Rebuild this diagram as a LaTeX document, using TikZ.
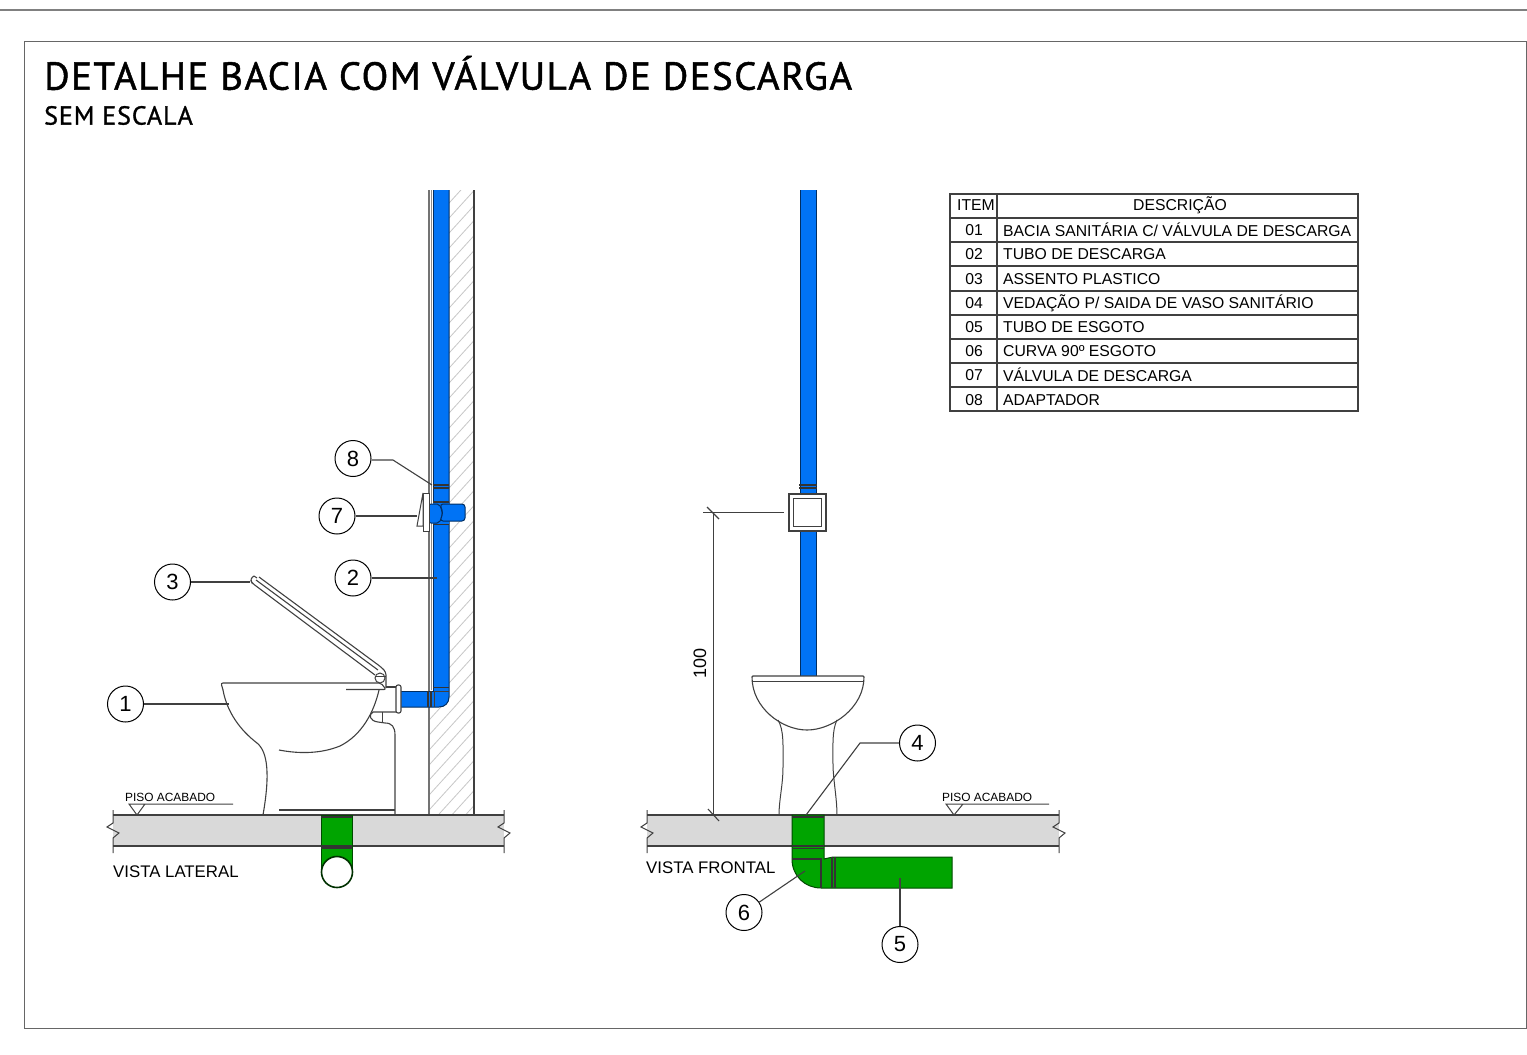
\documentclass[tikz,border=0pt]{standalone}
\usepackage{fontspec}
\setmainfont{Liberation Sans}
\newfontfamily\titlefont[FakeBold=1.2]{PT Sans}
\definecolor{pipeblue}{HTML}{0073F5}
\definecolor{pipegreen}{HTML}{00A400}
\definecolor{slabgray}{HTML}{D9D9D9}
\definecolor{inkgray}{HTML}{404040}
\newcommand{\sz}[1]{\fontsize{#1}{#1}\selectfont}
\begin{document}
\begin{tikzpicture}[x=1pt,y=-1pt,
		every node/.style = {inner sep=0pt, text=black},
		line/.style = {draw=inkgray, line width=1.1pt},
		thin line/.style = {draw=inkgray, line width=1pt},
		balloon/.style = {shape=circle, draw=black, line width=1pt, fill=white,
				minimum size=36pt, font=\sz{22}},
		leader/.style = {draw=inkgray, line width=1.1pt},
		slab/.style = {fill=slabgray, draw=none},
		blue edge/.style = {draw=black!60!pipeblue, line width=1pt},
		green pipe/.style = {fill=pipegreen, draw=black!55!pipegreen, line width=1pt},
		band/.style = {line width=1.8pt, draw=black!80},
		cell/.style = {font=\sz{15.75}, anchor=west},
		note/.style = {font=\sz{11.9}, anchor=west},
		caption/.style = {font=\sz{16.8}, anchor=west}]
	\useasboundingbox (0,0) rectangle (1527,1055);
	\draw[draw=gray, line width=1.4pt] (0,10) -- (1527,10);
	\draw[draw=black!60, line width=1pt] (24,41) rectangle (1526,1028);

	% titles
	\node[anchor=west, font=\titlefont\sz{39}] (title) at (44,73) {\addfontfeature{LetterSpace=3.7}DETALHE BACIA COM VÁLVULA DE DESCARGA};
	\node[anchor=west, font=\titlefont\sz{26}] (subtitle) at (44,115.5) {\addfontfeature{LetterSpace=3.6}SEM ESCALA};

	% table
	\draw[line] (950,194) rectangle (1358,411);
	\draw[line] (997,194) -- (997,411);
	\foreach \y in {218,242,266,291,315,339,363,387}
		\draw[line] (950,\y) -- (1358,\y);
	\node[cell, anchor=center] (itemhead) at (976,205) {ITEM};
	\node[cell, anchor=center] (deschead) at (1180,205) {DESCRIÇÃO};
	\foreach \y/\n/\txt in {230/01/{BACIA SANITÁRIA C/ VÁLVULA DE DESCARGA},
			254/02/{TUBO DE DESCARGA},
			279/03/{ASSENTO PLASTICO},
			303/04/{VEDAÇÃO P/ SAIDA DE VASO SANITÁRIO},
			327/05/{TUBO DE ESGOTO},
			351/06/{CURVA 90º ESGOTO},
			375/07/{VÁLVULA DE DESCARGA},
			400/08/{ADAPTADOR}} {
		\node[cell, anchor=center] (num\n) at (974,\y) {\n};
		\node[cell] (desc\n) at (1003,\y) {\txt};
	}

	% lateral view: wall
	\begin{scope}
		\clip (449,190) rectangle (474,815) (429,707) rectangle (449,815);
		\foreach \i in {0,...,50}
			\draw[draw=black!22, line width=0.8pt] (420,190+\i*15) -- +(70,-77);
	\end{scope}
	\draw[draw=black!55, line width=1.1pt] (429,190) -- (429,815);
	\draw[draw=black!45, line width=0.9pt] (431,190) -- (431,690);
	\draw[line] (474,190) -- (474,815);

	% lateral view: slab
	\fill[slab] (113,815) rectangle (504,846);
	\draw[line] (113,815) -- (504,815);
	\draw[line] (113,846) -- (504,846);
	\draw[thin line] (113,810) -- (113,823) -- (107,827) -- (119,833) -- (113,838) -- (113,853);
	\draw[thin line] (504,810) -- (504,823) -- (498,827) -- (510,833) -- (504,838) -- (504,853);

	% lateral view: drain
	\draw[green pipe] (321,815) rectangle (352,875);
	\draw[band] (321,817) -- (352,817);
	\draw[band] (321,846) -- (352,846);
	\draw[band] (321,848) -- (352,848);
	\node[shape=circle, draw=black!70!pipegreen, line width=1.6pt, fill=white, minimum size=31pt] (drainhole) at (337,872) {};

	% lateral view: blue pipe
	\fill[pipeblue] (433,190) -- (449,190) -- (449,697) .. controls (449,703) and (445,707) .. (439,707) -- (401,707) -- (401,691) -- (433,691) -- cycle;
	\draw[blue edge] (433,190) -- (433,691) -- (401,691);
	\draw[blue edge] (449,190) -- (449,697) .. controls (449,703) and (445,707) .. (439,707) -- (401,707);
	\draw[band] (433,485) -- (449,485);
	\draw[band] (433,488) -- (449,488);
	\draw[band] (433,687.5) -- (449,687.5);
	\draw[band] (428,691) -- (428,707);
	\draw[band] (431,691) -- (431,707);
	\draw[thin line] (434,691) -- (434,707);
	\draw[thin line] (434,691) -- (449,691);

	% lateral view: valve
	\fill[pipeblue] (433,501) rectangle (449,525);
	\draw[band] (433,502) -- (449,502);
	\draw[band] (433,524.5) -- (449,524.5);
	\draw[blue edge, fill=pipeblue, rounded corners=2pt] (429,504) -- (439,504) -- (442,510) -- (442,517) -- (439,523) -- (429,523) -- cycle;
	\draw[blue edge, fill=pipeblue, rounded corners=3pt] (440,504) -- (465,504) -- (465,521) -- (440,521) -- (443,513) -- cycle;
	\draw[thin line, fill=white] (423,493) -- (429,493) -- (429,531) -- (423,531) -- cycle;
	\draw[thin line, fill=white] (423,493) -- (417,526) -- (423,526) -- cycle;

	% lateral view: bowl
	\draw[line, rounded corners=2pt] (346,689.5) -- (386,689.5) -- (381,683) -- (221,683) -- (223,690);
	\draw[line] (223,690) .. controls (227,712) and (240,730) .. (257,743)
		.. controls (268,752) and (270,775) .. (263,815);
	\draw[line] (279,750) .. controls (310,756) and (330,750) .. (340,746)
		.. controls (362,735) and (374,712) .. (379,690);
	\draw[line] (279,810) -- (395,810);
	\draw[line] (395,815) -- (395,735) .. controls (395,727) and (392,723) .. (385,723)
		-- (378,722) .. controls (370,721) and (368,715) .. (373,712) -- (396,712);
	\draw[thin line] (382,712) -- (382,723);
	\draw[line] (386,687) -- (396,687);
	\draw[line, fill=white, rounded corners=2pt] (396,685) rectangle (401,713);

	% lateral view: seat
	\draw[line, rounded corners=3pt] (259,577) -- (381,667) -- (386,672) -- (386,688);
	\draw[line] (256,580) -- (378,670);
	\draw[line, rounded corners=3pt] (254,576) -- (250,579) -- (252,583) -- (375,675);
	\draw[line] (254,576) -- (257,578);
	\draw[thin line] (380,678) circle[radius=5pt];
	\draw[thin line] (376,676) -- (386,676);

	% front view: slab
	\fill[slab] (647,815) rectangle (1059,846);
	\draw[line] (647,815) -- (1059,815);
	\draw[line] (647,846) -- (1059,846);
	\draw[thin line] (647,810) -- (647,823) -- (641,827) -- (653,833) -- (647,838) -- (647,853);
	\draw[thin line] (1059,810) -- (1059,823) -- (1053,827) -- (1065,833) -- (1059,838) -- (1059,853);

	% front view: drain
	\draw[green pipe] (792,815) -- (824,815) -- (824,859) -- (833,857) -- (952,857) -- (952,888) -- (821,888)
		.. controls (805,888) and (792,876) .. (792,859) -- cycle;
	\draw[band] (792,817) -- (824,817);
	\draw[band] (792,846) -- (824,846);
	\draw[band] (792,848.5) -- (824,848.5);
	\draw[draw=black!80, line width=1.2pt] (792,859) -- (822,859);
	\draw[draw=black!80, line width=1.2pt] (821,859) -- (821,888);
	\draw[draw=black!80, line width=1.2pt] (832,857) -- (832,888);
	\draw[draw=black!80, line width=1.2pt] (835,857) -- (835,888);

	% front view: pipe and valve
	\fill[pipeblue] (800,190) rectangle (816,676);
	\draw[blue edge] (800,190) -- (800,676);
	\draw[blue edge] (816,190) -- (816,676);
	\draw[band] (799,485) -- (817,485);
	\draw[band] (799,488) -- (817,488);
	\node[shape=rectangle, draw=inkgray, line width=1.2pt, fill=white, minimum size=37pt] (plate) at (807.5,512.5) {};
	\node[shape=rectangle, draw=inkgray, line width=1.5pt, fill=white, minimum size=28pt] (button) at (807.7,512.5) {};

	% front view: bowl
	\draw[line, fill=white] (752,677) -- (753,676) -- (863,676) -- (864,677)
		.. controls (864,708) and (832,730) .. (807,730)
		.. controls (782,730) and (752,708) .. (752,677) -- cycle;
	\draw[thin line] (752,681) -- (864,681);
	\draw[thin line] (778,720) .. controls (784,730) and (783,745) .. (783,767) .. controls (783,785) and (779,800) .. (779,815);
	\draw[thin line] (837,720) .. controls (832,730) and (833,745) .. (833,767) .. controls (834,785) and (837,800) .. (837,815);

	% levels
	\draw[thin line] (233,804) -- (129,804) -- (137,815) -- (145,804);
	\node[note] (pisoa) at (125,797) {PISO ACABADO};
	\draw[thin line] (1049,804) -- (946,804) -- (954,815) -- (963,804);
	\node[note] (pisob) at (942,797) {PISO ACABADO};
	\node[caption] (vistal) at (113,872) {VISTA LATERAL};
	\node[caption] (vistaf) at (646,868) {VISTA FRONTAL};

	% dimension
	\coordinate (dimtop) at (713,512);
	\coordinate (dimbot) at (713,815);
	\coordinate (dimext) at (784,512);
	\draw[thin line] (703,512) -- (dimext);
	\draw[thin line] (dimtop) -- (dimbot);
	\draw[line] (707,507) -- (719,519);
	\draw[line] (708,809) -- (719,821);
	\node[font=\sz{18}, rotate=90] (dim) at (700,663) {100};

	% balloons
	\node[balloon] (b1) at (125.5,704) {1};
	\node[balloon] (b2) at (353,578) {2};
	\node[balloon] (b3) at (172.5,582) {3};
	\node[balloon] (b4) at (917.5,743) {4};
	\node[balloon] (b5) at (900,944.5) {5};
	\node[balloon] (b6) at (744,912.5) {6};
	\node[balloon] (b7) at (337,516) {7};
	\node[balloon] (b8) at (353,458.5) {8};
	\coordinate (p1) at (229,704);
	\coordinate (p2) at (437,578);
	\coordinate (p3) at (250,582);
	\coordinate (k4) at (860,743);
	\coordinate (p4) at (806,815);
	\coordinate (p5) at (900,878);
	\coordinate (p6) at (805,871);
	\coordinate (p7) at (417,516);
	\coordinate (k8) at (393,460);
	\coordinate (p8) at (432,485);
	\draw[leader] (b1) -- (p1);
	\draw[leader] (b2) -- (p2);
	\draw[leader] (b3) -- (p3);
	\draw[leader] (b4) -- (k4) -- (p4);
	\draw[leader] (b5) -- (p5);
	\draw[leader] (b6) -- (p6);
	\draw[leader] (b7) -- (p7);
	\draw[leader] (b8.east |- k8) -- (k8) -- (p8);
\end{tikzpicture}
\end{document}
